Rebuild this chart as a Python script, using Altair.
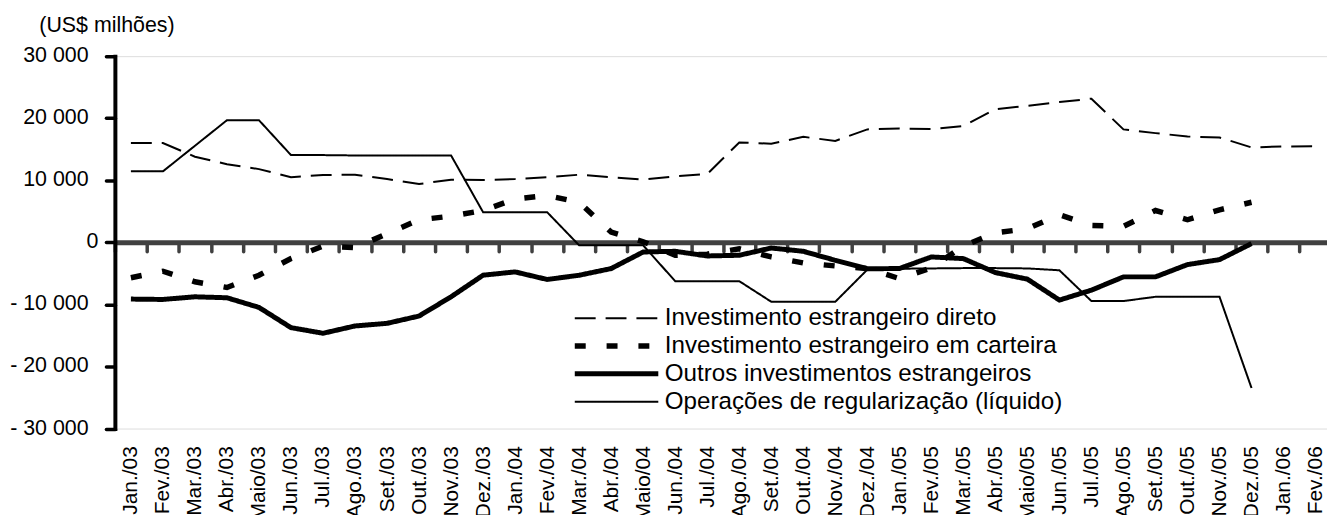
import altair as alt
import pandas as pd

months = [
    "Jan./03", "Fev./03", "Mar./03", "Abr./03", "Maio/03", "Jun./03", "Jul./03", "Ago./03",
    "Set./03", "Out./03", "Nov./03", "Dez./03",
    "Jan./04", "Fev./04", "Mar./04", "Abr./04", "Maio/04", "Jun./04", "Jul./04", "Ago./04",
    "Set./04", "Out./04", "Nov./04", "Dez./04",
    "Jan./05", "Fev./05", "Mar./05", "Abr./05", "Maio/05", "Jun./05", "Jul./05", "Ago./05",
    "Set./05", "Out./05", "Nov./05", "Dez./05",
    "Jan./06", "Fev./06",
]

direct = [16000, 16000, 13800, 12600, 11800, 10500, 10850, 10900, 10200, 9400, 10100, 10050,
          10200, 10500, 10900, 10500, 10100, 10650, 11000, 16100, 15900, 17000, 16350, 18200,
          18350, 18250, 18750, 21450, 22000, 22600, 23150, 18200, 17600, 17050, 16900, 15300,
          15450, 15500]

portfolio = [-5700, -4650, -6350, -7270, -5300, -2600, -600, -850, 1390, 3640, 4220, 5130,
             7000, 7540, 6460, 1650, 100, -2080, -1900, -1050, -2350, -3320, -3800, -4220,
             -5830, -4120, -590, 1550, 2190, 4440, 2730, 2570, 5130, 3640, 5240, 6460,
             None, None]

others = [-9140, -9200, -8770, -8930, -10480, -13740, -14650, -13470, -13050, -11870, -8770, -5290,
          -4760, -5980, -5300, -4220, -1550, -1440, -2190, -2080, -910, -1440, -2890, -4250,
          -4220, -2350, -2620, -4870, -5930, -9300, -7700, -5560, -5560, -3580, -2780, -200,
          None, None]

regular = [11440, 11440, 15560, 19680, 19680, 14060, 14060, 14000, 14000, 14000, 14000, 4860,
           4860, 4860, -480, -480, -480, -6250, -6250, -6250, -9570, -9570, -9570, -4400,
           -4250, -4200, -4150, -4150, -4200, -4500, -9460, -9460, -8770, -8770, -8770, -23470,
           None, None]

series_names = [
    "Investimento estrangeiro direto",
    "Investimento estrangeiro em carteira",
    "Outros investimentos estrangeiros",
    "Operações de regularização (líquido)",
]
y_ticks = [-30000, -20000, -10000, 0, 10000, 20000, 30000]

# styles (not data)
dashes = [[21, 10], [11, 21], [1, 0], [1, 0]]
widths = [2, 5.5, 5, 2]
FONT = "Liberation Sans"
BAND = 32.2
Y_DOMAIN = [-30000, 30000]

rows = []
for name, vals in zip(series_names, [direct, portfolio, others, regular]):
    for m, v in zip(months, vals):
        rows.append({"mes": m, "serie": name, "valor": v})
df = pd.DataFrame(rows)
legend_df = pd.DataFrame({"serie": series_names})
ticks_df = pd.DataFrame({"v": y_ticks})

x_scale = alt.Scale(type="band", domain=months, range=[0, BAND * len(months)],
                    paddingInner=0, paddingOuter=0)
dash_scale = alt.Scale(type="ordinal", domain=series_names, range=dashes)
width_scale = alt.Scale(type="ordinal", domain=series_names, range=widths)

lines = alt.Chart(df).mark_line(color="black", strokeCap="butt").encode(
    x=alt.X("mes:N", scale=x_scale, sort=months,
            axis=alt.Axis(title=None, orient="bottom", offset=-187.25,
                          domainColor="#404040", domainWidth=5,
                          tickColor="#404040", tickWidth=3.5, tickSize=9, tickCap="round",
                          tickBand="extent", labelAngle=270, labelAlign="right",
                          labelBaseline="middle", labelPadding=195.5, labelFontSize=21,
                          labelFont=FONT, labelColor="black", grid=False, labelOverlap=False)),
    y=alt.Y("valor:Q", scale=alt.Scale(domain=Y_DOMAIN, nice=False, zero=False),
            axis=alt.Axis(values=y_ticks, labels=False, title="(US$ milhões)",
                          titleAngle=0, titleAlign="left", titleBaseline="middle",
                          titleX=-76.5, titleY=-31, titleFontSize=21.5, titleFont=FONT,
                          titleFontWeight="normal", titleColor="black",
                          domainColor="black", domainWidth=4, domainCap="square",
                          tickColor="black", tickWidth=3.5, tickSize=9, tickCap="round",
                          grid=False)),
    strokeDash=alt.StrokeDash("serie:N", scale=dash_scale, legend=None),
    strokeWidth=alt.StrokeWidth("serie:N", scale=width_scale, legend=None),
    detail="serie:N",
)

# y tick labels (number format "# ##0 ;- # ##0 ;0": non-zero values padded on the right)
tick_y = alt.Y("v:Q", scale=alt.Scale(domain=Y_DOMAIN, nice=False, zero=False), axis=None)
tick_base = alt.Chart(ticks_df).transform_calculate(
    lab="(datum.v < 0 ? '- ' : '') + replace(format(abs(datum.v), ','), ',', ' ')"
)
tick_labels_nz = tick_base.transform_filter("datum.v != 0").mark_text(
    align="right", baseline="middle", font=FONT, fontSize=21.5, color="black"
).encode(x=alt.value(-26.5), y=tick_y, text="lab:N")
tick_labels_zero = tick_base.transform_filter("datum.v == 0").mark_text(
    align="right", baseline="middle", font=FONT, fontSize=21.5, color="black"
).encode(x=alt.value(-16.5), y=tick_y, text="lab:N")

leg_y = alt.Y("serie:N", scale=alt.Scale(type="point", domain=series_names,
                                          range=[263.5, 347.5], padding=0), axis=None)

leg_rules = alt.Chart(legend_df).mark_rule(color="black", strokeCap="butt").encode(
    x=alt.value(462.5), x2=alt.value(546.5), y=leg_y,
    strokeDash=alt.StrokeDash("serie:N", scale=dash_scale, legend=None),
    strokeWidth=alt.StrokeWidth("serie:N", scale=width_scale, legend=None),
)

leg_text = alt.Chart(legend_df).mark_text(align="left", baseline="middle", font=FONT,
                                          fontSize=24.3, color="black").encode(
    x=alt.value(553), y=leg_y, text="serie:N",
)

chart = alt.layer(lines, tick_labels_nz, tick_labels_zero, leg_rules, leg_text).resolve_scale(
    y="independent"
).properties(
    width=1219, height=374.5,
    autosize=alt.AutoSizeParams(type="none"),
    padding={"left": 107.5, "top": 47, "right": 0, "bottom": 85},
).configure_view(stroke=None).configure(font=FONT)

chart.save("out.html", embed_options={"renderer": "svg", "actions": False})
